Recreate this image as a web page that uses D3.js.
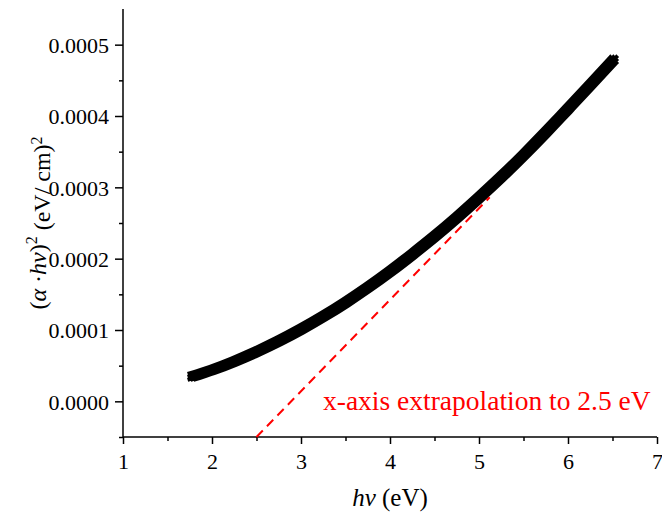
<!DOCTYPE html>
<html>
<head>
<meta charset="utf-8">
<script src="https://cdn.jsdelivr.net/npm/d3@7"></script>
<style>
  html, body { margin: 0; padding: 0; background: #fff; }
  svg { display: block; }
</style>
</head>
<body>
<svg id="chart" width="662" height="515" font-family="Liberation Serif"></svg>
<script>
// Photon energy (eV) and (alpha*h*nu)^2 values of the Tauc curve
const energy = [1.78, 2.00, 2.25, 2.50, 2.75, 3.00, 3.25, 3.50, 3.75, 4.00,
                4.25, 4.50, 4.75, 5.00, 5.25, 5.50, 5.75, 6.00, 6.25, 6.51];
const taucValue = [0.0000350, 0.0000440, 0.0000560, 0.0000695, 0.0000845, 0.0001010,
                   0.0001190, 0.0001385, 0.0001595, 0.0001820, 0.0002060, 0.0002310,
                   0.0002575, 0.0002855, 0.0003145, 0.0003450, 0.0003770, 0.0004100,
                   0.0004435, 0.0004785];

// Linear extrapolation of the absorption edge
const fitEnergy = [2.5, 5.12];
const fitValue = [-0.00005, 0.000286];

const xTicks = [1, 2, 3, 4, 5, 6, 7];
const yTicks = [0.0000, 0.0001, 0.0002, 0.0003, 0.0004, 0.0005];
const annotation = "x-axis extrapolation to 2.5 eV";

const svg = d3.select("#chart");
const margin = { top: 9, right: 5, bottom: 78, left: 123 };
const width = 662 - margin.left - margin.right;
const height = 515 - margin.top - margin.bottom;

const x = d3.scaleLinear().domain([1, 7]).range([0, width]);
const y = d3.scaleLinear().domain([-0.00005, 0.00055]).range([height, 0]);

const g = svg.append("g").attr("transform", `translate(${margin.left},${margin.top})`);

// Minor ticks halfway between the labelled ones
const xMinor = d3.range(1.5, 7, 1);
const yMinor = d3.range(-0.00005, 0.00055, 0.0001);

const xAxisMinor = g.append("g").attr("transform", `translate(0,${height})`)
  .call(d3.axisBottom(x).tickValues(xMinor).tickSize(4).tickFormat(""));
const yAxisMinor = g.append("g")
  .call(d3.axisLeft(y).tickValues(yMinor).tickSize(4).tickFormat(""));
[xAxisMinor, yAxisMinor].forEach(a => {
  a.select(".domain").remove();
  a.selectAll("line").attr("stroke", "#000").attr("stroke-width", 1.5);
});

// Major axes
const xAxis = g.append("g").attr("transform", `translate(0,${height})`)
  .call(d3.axisBottom(x).tickValues(xTicks).tickSize(7).tickPadding(9).tickFormat(d3.format("d")));
const yAxis = g.append("g")
  .call(d3.axisLeft(y).tickValues(yTicks).tickSize(8).tickPadding(6).tickFormat(d3.format(".4f")));

[xAxis, yAxis].forEach(a => {
  a.attr("font-family", "Liberation Serif").attr("font-size", 22);
  a.select(".domain").attr("stroke", "#000").attr("stroke-width", 1.5);
  a.selectAll("line").attr("stroke", "#000").attr("stroke-width", 1.5);
  a.selectAll("text").attr("fill", "#000");
});
// Plain axis lines without end caps
xAxis.select(".domain").attr("d", `M0,0H${width}`);
yAxis.select(".domain").attr("d", `M0,0V${height}`);
yAxis.selectAll("text").attr("dy", "0.35em");
xAxis.selectAll("text").attr("dy", "0.71em");

// Tauc curve drawn as a square marker swept along the data
const pts = energy.map((e, i) => [x(e), y(taucValue[i])]);
const line = d3.line().curve(d3.curveNatural);
const curve = g.append("g");
const step = 3.0;
for (let dx = -1; dx <= 1; dx++) {
  for (let dy = -1; dy <= 1; dy++) {
    curve.append("path")
      .attr("d", line(pts))
      .attr("transform", `translate(${dx * step},${dy * step})`)
      .attr("fill", "none")
      .attr("stroke", "#000")
      .attr("stroke-width", 3.8)
      .attr("stroke-linecap", "square")
      .attr("stroke-linejoin", "miter");
  }
}

// Extrapolation line
g.append("line")
  .attr("x1", x(fitEnergy[0])).attr("y1", y(fitValue[0]))
  .attr("x2", x(fitEnergy[1])).attr("y2", y(fitValue[1]))
  .attr("stroke", "#ff0000")
  .attr("stroke-width", 2)
  .attr("stroke-dasharray", "9,6");

// Annotation
svg.append("text")
  .attr("x", 323).attr("y", 410)
  .attr("font-size", 27.5)
  .attr("fill", "#ff0000")
  .text(annotation);

// X axis title: h nu (eV)
const xt = svg.append("text")
  .attr("x", margin.left + x(4)).attr("y", 506)
  .attr("text-anchor", "middle")
  .attr("font-size", 25)
  .attr("fill", "#000");
xt.append("tspan").attr("font-style", "italic").text("hν");
xt.append("tspan").text(" (eV)");

// Y axis title: (alpha . h nu)^2 (eV/ cm)^2
const yt = svg.append("text")
  .attr("transform", "translate(46,223) rotate(-90)")
  .attr("text-anchor", "middle")
  .attr("xml:space", "preserve")
  .style("white-space", "pre")
  .attr("font-size", 24)
  .attr("fill", "#000");
yt.append("tspan").text("(");
yt.append("tspan").attr("font-style", "italic").text("α");
yt.append("tspan").text(" ·");
yt.append("tspan").attr("font-style", "italic").text("hν");
yt.append("tspan").text(")");
yt.append("tspan").attr("dy", "-0.55em").attr("font-size", 16).text("2");
yt.append("tspan").attr("dy", "0.55em").text(" (eV/ cm)");
yt.append("tspan").attr("dy", "-0.55em").attr("font-size", 16).text("2");
</script>
</body>
</html>
